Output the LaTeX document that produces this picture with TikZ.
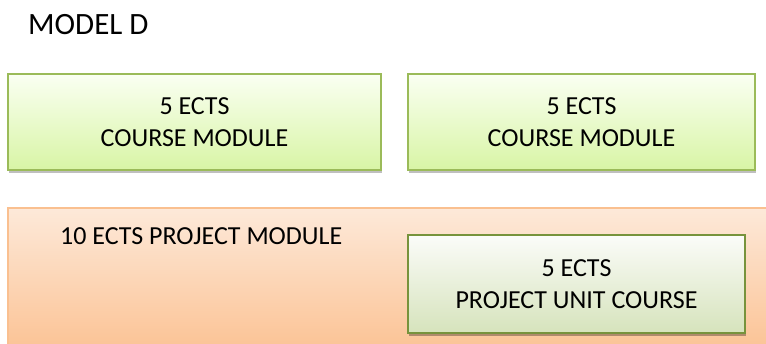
\documentclass[tikz,border=0pt]{standalone}
\usepackage{fontspec}
\setmainfont{Carlito}
\usetikzlibrary{shadows}
\definecolor{modgreen}{HTML}{9BBB59}
\definecolor{unitgreen}{HTML}{77933C}
\definecolor{projorange}{HTML}{FAC090}
\begin{document}
\begin{tikzpicture}[x=1pt,y=-1pt,
      coursebox/.style={draw=modgreen, line width=1.5pt, top color=green!2!white!97!yellow, bottom color={rgb,255:red,216;green,245;blue,165},
         drop shadow={shadow xshift=0.5pt, shadow yshift=-3pt, opacity=0.25, fill=black},
         align=center, inner sep=0pt, font=\fontsize{26}{32}\selectfont},
      unitbox/.style={draw=unitgreen, line width=1.5pt, top color={rgb,255:red,251;green,252;blue,249}, bottom color={rgb,255:red,214;green,227;blue,188},
         drop shadow={shadow xshift=0.5pt, shadow yshift=-3pt, opacity=0.3, fill=black},
         align=center, inner sep=0pt, font=\fontsize{26}{32}\selectfont},
      label/.style={inner sep=0pt, anchor=base west}]
   \clip (0,0) rectangle (766,344);

   % Title
   \node[label, font=\fontsize{31}{36}\selectfont] (title) at (28,35) {MODEL D};

   % Course modules
   \node[coursebox, minimum width=373pt, minimum height=96pt] (courseA) at (194.5,122) {5 ECTS\\COURSE MODULE};
   \node[coursebox, minimum width=347pt, minimum height=96pt] (courseB) at (581.5,122) {5 ECTS\\COURSE MODULE};

   % Project module
   \node[draw=projorange, line width=1.5pt, top color={rgb,255:red,253;green,233;blue,217}, bottom color={rgb,255:red,251;green,190;blue,140},
      minimum width=776pt, minimum height=160pt, inner sep=0pt] (project) at (396,288) {};
   \node[label, font=\fontsize{26}{32}\selectfont] (projtitle) at (60,245) {10 ECTS PROJECT MODULE};

   % Project unit course
   \node[unitbox, minimum width=337pt, minimum height=98pt] (unit) at (576.5,284) {5 ECTS\\PROJECT UNIT COURSE};

\end{tikzpicture}
\end{document}
